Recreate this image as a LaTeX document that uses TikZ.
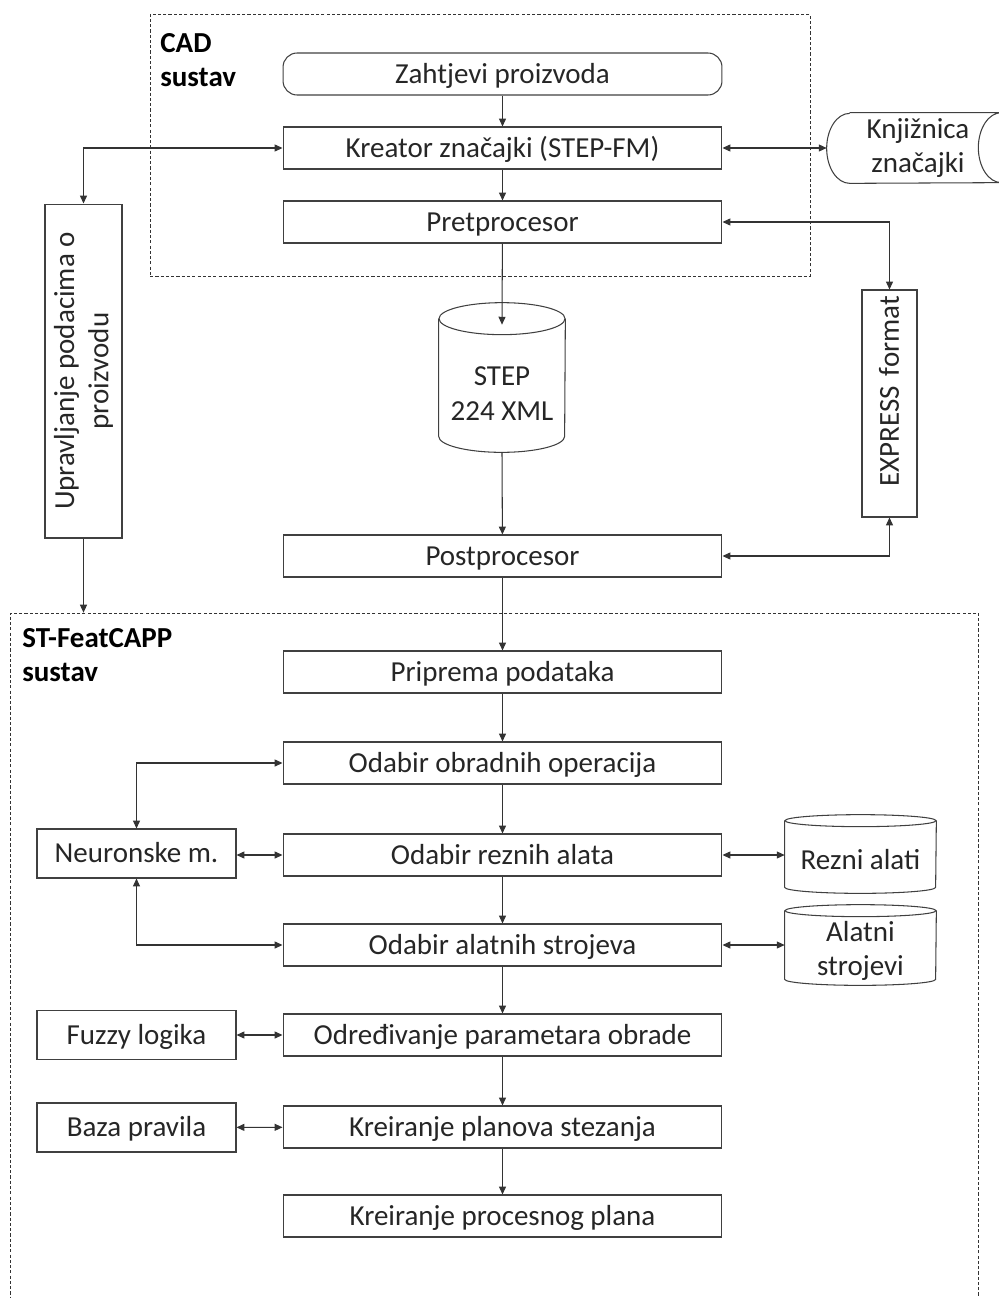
\documentclass[tikz,border=0pt]{standalone}
\usepackage{fontspec}
\setmainfont{Carlito}
\usetikzlibrary{arrows.meta,calc}
\newcommand{\diafont}{\fontsize{16.5}{19.5}\selectfont}
\tikzstyle{framebox}=[rectangle,draw=black!75,line width=0.6pt,inner sep=0pt,text=black!85]
\tikzstyle{procbox}=[framebox,minimum width=8.78cm,minimum height=0.84cm,text height=10.6pt,text depth=0pt]
\tikzstyle{sidebox}=[procbox,minimum width=3.98cm,minimum height=0.98cm]
\tikzstyle{sysbox}=[rectangle,draw=black!80,dash pattern=on 1.8pt off 1.2pt,line width=0.5pt,inner sep=0pt]
\tikzstyle{syslabel}=[anchor=north west,inner sep=0pt,align=left,font=\diafont\bfseries]
\tikzstyle{store}=[inner sep=0pt,align=center,text=black!85]
\tikzstyle{edge}=[draw,draw=black!80,line width=0.6pt,->]
\tikzstyle{biedge}=[draw,draw=black!80,line width=0.6pt,<->]
% cylinder outline round a node: #1 node, #2 x radius, #3 y radius
\newcommand{\dbcylinder}[3]{%
  \draw[line width=0.6pt,draw=black!75] ([yshift=#3]#1.north west) -- ([yshift=#3]#1.south west)
    arc[start angle=180,end angle=360,x radius=#2,y radius=#3] -- ([yshift=#3]#1.north east);
  \draw[line width=0.6pt,draw=black!75] ([yshift=#3]#1.north) ellipse[x radius=#2,y radius=#3];}

\begin{document}
\begin{tikzpicture}[x=0.02cm,y=-0.02cm,font=\diafont,>={Triangle[length=4.5pt,width=4pt]}]
    \useasboundingbox (0,0) rectangle (998,1298);

    % system frames
    \node[sysbox,minimum width=13.2cm,minimum height=5.24cm] (cad) at (480,145) {};
    \node[sysbox,minimum width=19.38cm,minimum height=13.78cm] (feat) at (494.5,957.5) {};
    \node[syslabel] (cadlabel) at (160,33) {CAD\\sustav};
    \node[syslabel] (featlabel) at (22,628) {ST-FeatCAPP\\sustav};

    % main column
    \node[procbox,rounded corners=8pt] (zahtjevi) at (502.5,74) {Zahtjevi proizvoda};
    \foreach \pos/ \name/ \txt in {{(502.5,148)/kreator/Kreator značajki (STEP-FM)}, {(502.5,222)/pretproc/Pretprocesor},
        {(502.5,556)/postproc/Postprocesor}, {(502.5,672)/priprema/Priprema podataka},
        {(502.5,763)/obradne/Odabir obradnih operacija}, {(502.5,855)/rezni/Odabir reznih alata},
        {(502.5,945)/alatni/Odabir alatnih strojeva}, {(502.5,1035)/parametri/Određivanje parametara obrade},
        {(502.5,1127)/stezanje/Kreiranje planova stezanja}, {(502.5,1216)/procplan/Kreiranje procesnog plana}}
        \node[procbox] (\name) at \pos {\txt};

    % side boxes
    \node[sidebox] (neuro) at (136.5,853.5) {Neuronske m.};
    \node[sidebox] (fuzzy) at (136.5,1035) {Fuzzy logika};
    \node[sidebox] (baza) at (136.5,1127.5) {Baza pravila};
    \node[framebox,rotate=90,minimum width=6.68cm,minimum height=1.54cm,align=center] (upravlj) at (83.5,371) {Upravljanje podacima o\\proizvodu};
    \node[framebox,rotate=90,minimum width=4.54cm,minimum height=1.1cm,inner xsep=0.12cm,text width=4.3cm,align=right,text height=10.6pt,text depth=0pt] (express) at (889.5,403.5) {EXPRESS format};

    % data stores
    \node[store,minimum width=2.52cm,minimum height=2.34cm] (stepdb) at (502,393.5) {STEP\\224 XML};
    \node[store,minimum width=3.02cm,minimum height=1.32cm] (reznidb) at (860.5,860) {Rezni alati};
    \node[store,minimum width=3.02cm,minimum height=1.36cm] (alatnidb) at (860.5,951) {Alatni\\strojevi};
    \dbcylinder{stepdb}{1.26cm}{0.32cm}
    \dbcylinder{reznidb}{1.51cm}{0.12cm}
    \dbcylinder{alatnidb}{1.51cm}{0.12cm}
    \node[store,minimum width=3.64cm,minimum height=1.4cm] (knjiz) at (918,148) {Knjižnica\\značajki};
    \draw[line width=0.6pt,draw=black!75] ([xshift=0.46cm]knjiz.north west) -- ([xshift=-0.16cm]knjiz.north east)
        arc[start angle=90,end angle=270,x radius=0.46cm,y radius=0.7cm]
        -- ([xshift=0.46cm]knjiz.south west)
        arc[start angle=270,end angle=90,x radius=0.46cm,y radius=0.7cm];

    % connect the steps
    \foreach \source/ \dest in {zahtjevi/kreator, kreator/pretproc, postproc/priprema, priprema/obradne, obradne/rezni,
        rezni/alatni, alatni/parametri, parametri/stezanje, stezanje/procplan}
        \path[edge] (\source) -- (\dest);
    \path[edge] (pretproc) -- ([yshift=0.2cm]stepdb.north);
    \path[edge] (stepdb.south) -- (postproc);
    \path[edge] (upravlj.west) -- (upravlj.west |- feat.north);

    % two-way links
    \path[biedge] (kreator) -- (kreator -| knjiz.west);
    \path[biedge] (kreator.west) -| (upravlj.east);
    \path[biedge] (pretproc.east) -| (express.east);
    \path[biedge] (postproc.east) -| (express.west);
    \path[biedge] (neuro.north) |- (obradne.west);
    \path[biedge] (rezni.west -| neuro.east) -- (rezni.west);
    \path[biedge] (neuro.south) |- (alatni.west);
    \path[biedge] (rezni.east) -- (rezni.east -| reznidb.west);
    \path[biedge] (alatni.east) -- (alatni.east -| alatnidb.west);
    \path[biedge] (fuzzy) -- (parametri);
    \path[biedge] (baza) -- (stezanje);

\end{tikzpicture}
\end{document}
